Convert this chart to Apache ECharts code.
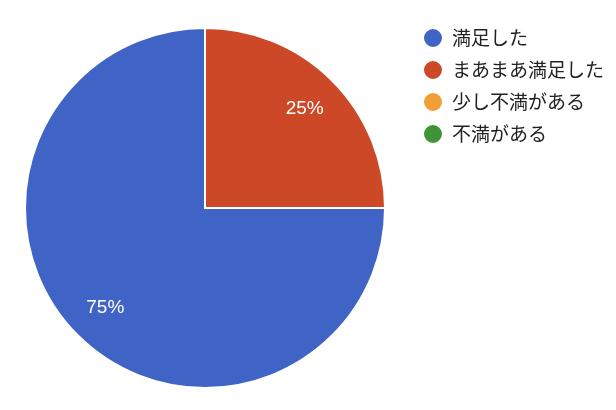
<!DOCTYPE html>
<html><head><meta charset="utf-8">
<script src="https://cdn.jsdelivr.net/npm/echarts@6/dist/echarts.min.js"></script>
<style>html,body{margin:0;padding:0;background:#fff}#c{width:616px;height:410px}</style>
</head><body><div id="c"></div>
<script>
const categories = ['満足した', 'まあまあ満足した', '少し不満がある', '不満がある'];
const counts = [3, 1, 0, 0];
const colors = ['#3f64c6', '#cc4827', '#f19e36', '#3e9436'];

const chart = echarts.init(document.getElementById('c'));
const data = categories.map((n, i) => ({ name: n, value: counts[i] }));
const fmt = p => p.value > 0 ? p.percent.toFixed(0) + '%' : '';
chart.setOption({
  animation: false,
  color: colors,
  legend: {
    data: categories,
    orient: 'vertical',
    left: 422, top: 27,
    padding: 0,
    icon: 'circle',
    itemWidth: 20, itemHeight: 20, itemGap: 10,
    textStyle: { fontSize: 19, color: '#222', fontFamily: '"Noto Sans CJK JP", sans-serif', padding: [0,0,0,4] }
  },
  series: [{
    type: 'pie',
    center: [205, 208],
    radius: 180,
    startAngle: 90,
    clockwise: false,
    data: data,
    label: { show: false },
    labelLine: { show: false },
    itemStyle: { borderColor: '#fff', borderWidth: 2 },
    emphasis: { disabled: true }
  }, {
    type: 'pie',
    center: [205, 208],
    radius: [98, 178],
    startAngle: 90,
    clockwise: false,
    silent: true,
    data: data,
    itemStyle: { color: 'rgba(0,0,0,0)', borderWidth: 0 },
    label: { show: true, position: 'inside', formatter: fmt, color: '#fff', fontSize: 19, fontFamily: 'Liberation Sans, Arial, sans-serif' },
    labelLine: { show: false },
    emphasis: { disabled: true }
  }]
});
</script></body></html>
